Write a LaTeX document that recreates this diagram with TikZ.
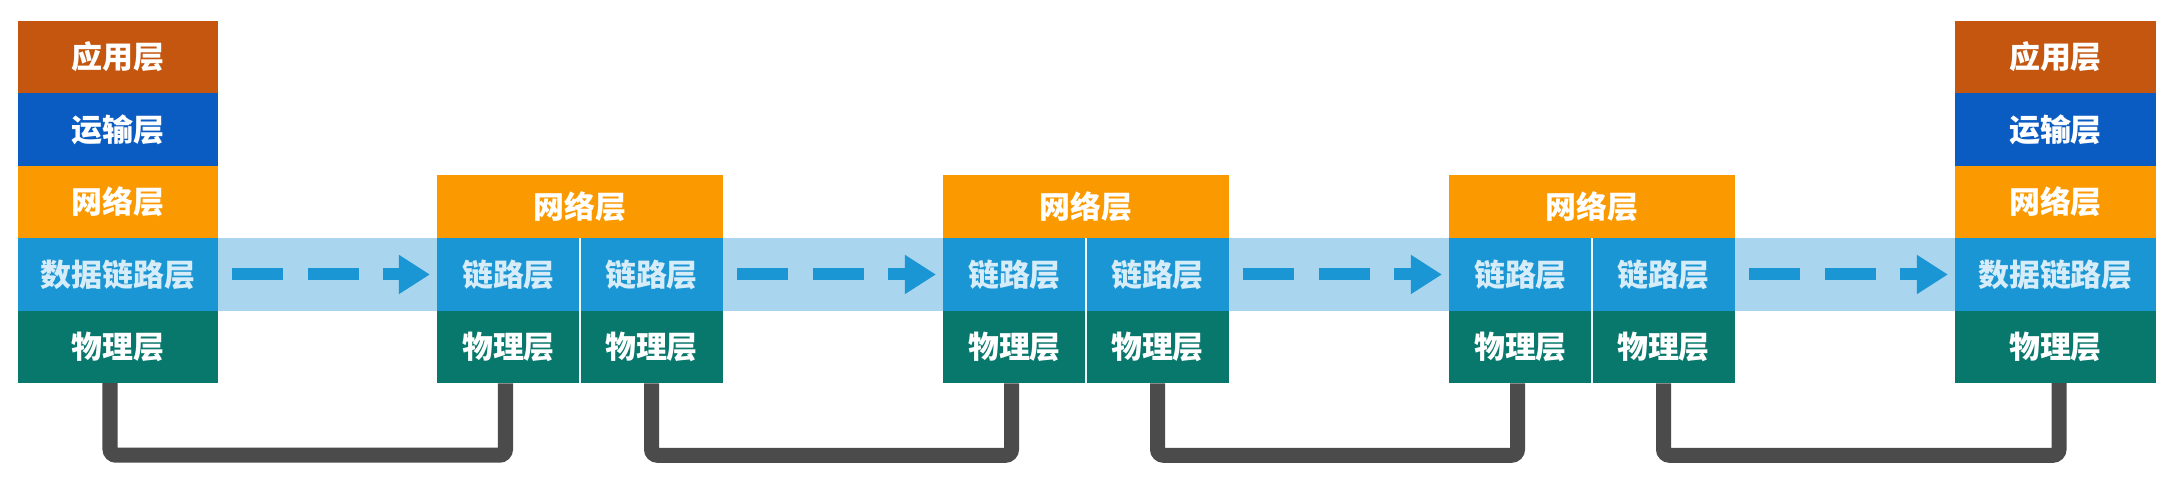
\documentclass[tikz,border=0pt]{standalone}
\usepackage{fontspec}
\setmainfont{Noto Sans CJK SC}
\usetikzlibrary{arrows.meta,backgrounds}
\definecolor{appc}{HTML}{C4560F}
\definecolor{trac}{HTML}{0A5CC3}
\definecolor{netc}{HTML}{FA9A00}
\definecolor{dlc}{HTML}{1A96D4}
\definecolor{phc}{HTML}{08786C}
\definecolor{bandc}{HTML}{A9D6EE}
\definecolor{dltext}{HTML}{D6ECF8}
\definecolor{wirec}{HTML}{4B4B4B}
\tikzset{
  x=0.01cm, y=-0.01cm,
  layer/.style={rectangle, inner sep=0pt, outer sep=0pt, text=white,
    font=\fontsize{8.8pt}{10pt}\selectfont\bfseries},
  stackbox/.style={layer, minimum width=2cm, minimum height=0.724cm},
  netbox/.style={layer, fill=netc, minimum width=2.86cm, minimum height=0.63cm},
  halfbox/.style={layer, minimum width=1.43cm, minimum height=0.725cm},
  flowarrow/.style={draw=dlc, line width=0.12cm, dash pattern=on 0.51cm off 0.245cm,
    -{Triangle[length=0.31cm,width=0.37cm]}, shorten <=0.14cm, shorten >=0.07cm},
  wire/.style={draw=wirec, line width=0.15cm, rounded corners=0.06cm},
  divider/.style={draw=white!92!dlc, line width=0.025cm}
}
\begin{document}
\begin{tikzpicture}
% left host stack
\node[stackbox, fill=appc] (Lap) at (118,57) {应用层};
\node[stackbox, fill=trac] (Ltr) at (118,129.5) {运输层};
\node[stackbox, fill=netc] (Lnw) at (118,202) {网络层};
\node[stackbox, fill=dlc, text=dltext] (Ldl) at (118,274.5) {数据链路层};
\node[stackbox, fill=phc] (Lph) at (118,347) {物理层};
% right host stack
\node[stackbox, fill=appc, minimum width=2.01cm] (Rap) at (2055.5,57) {应用层};
\node[stackbox, fill=trac, minimum width=2.01cm] (Rtr) at (2055.5,129.5) {运输层};
\node[stackbox, fill=netc, minimum width=2.01cm] (Rnw) at (2055.5,202) {网络层};
\node[stackbox, fill=dlc, text=dltext, minimum width=2.01cm] (Rdl) at (2055.5,274.5) {数据链路层};
\node[stackbox, fill=phc, minimum width=2.01cm] (Rph) at (2055.5,347) {物理层};
% routers
\foreach \i/\l in {1/437,2/943,3/1449}{
  \node[netbox] (R\i n) at (\l+143,206.5) {网络层};
  \node[halfbox, fill=dlc, text=dltext] (R\i da) at (\l+71.5,274.5) {链路层};
  \node[halfbox, fill=dlc, text=dltext] (R\i db) at (\l+214.5,274.5) {链路层};
  \node[halfbox, fill=phc] (R\i pa) at (\l+71.5,347) {物理层};
  \node[halfbox, fill=phc] (R\i pb) at (\l+214.5,347) {物理层};
  \draw[divider] (R\i n.south) -- (R\i n.south |- R\i pa.south);
}
\begin{scope}[on background layer]
  \fill[white] (0,0) rectangle (2172,486);
  \fill[bandc] (Ldl.north east) rectangle (Rdl.south west);
\end{scope}
% logical data-link flow
\draw[flowarrow] (Ldl.east) -- (R1da.west);
\draw[flowarrow] (R1db.east) -- (R2da.west);
\draw[flowarrow] (R2db.east) -- (R3da.west);
\draw[flowarrow] (R3db.east) -- (Rdl.west);
% physical links
\draw[wire] ([xshift=-0.08cm]Lph.south) -- ++(0,72) -| ([xshift=-0.03cm]R1pa.south);
\draw[wire] (R1pb.south) -- ++(0,72) -| ([xshift=-0.03cm]R2pa.south);
\draw[wire] (R2pb.south) -- ++(0,72) -| ([xshift=-0.03cm]R3pa.south);
\draw[wire] (R3pb.south) -- ++(0,72) -| ([xshift=0.035cm]Rph.south);
\end{tikzpicture}
\end{document}
